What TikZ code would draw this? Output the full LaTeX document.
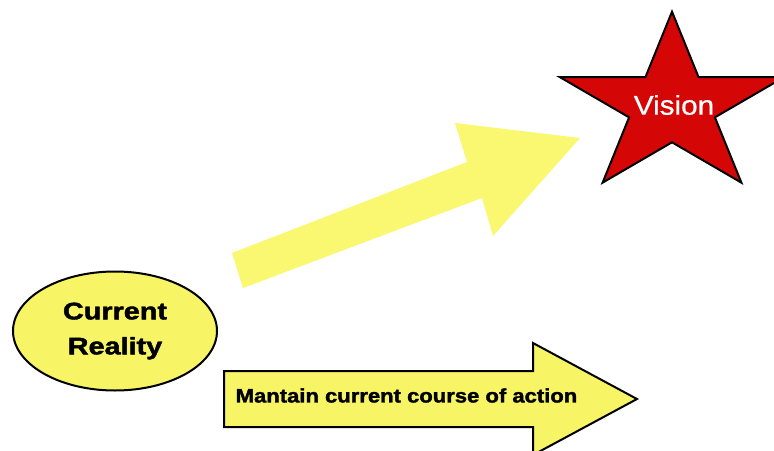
\documentclass[tikz,border=0pt]{standalone}
\usepackage{fontspec}
\setmainfont{Liberation Sans}
\newfontfamily\heavysans[FakeBold=1.6]{Liberation Sans Bold}
\newfontfamily\starsans[FakeBold=0.6]{Liberation Sans}
\usetikzlibrary{shapes.geometric}
\definecolor{pale}{RGB}{247,245,102}
\definecolor{paleflat}{RGB}{249,248,112}
\definecolor{starred}{RGB}{212,6,6}
\begin{document}
\begin{tikzpicture}[x=1pt,y=-1pt,
  outlined/.style={draw=black,line width=2pt,line join=miter},
  boldlabel/.style={font=\heavysans,text=black,inner sep=0pt}]
\useasboundingbox (0,0) rectangle (774,450);
\fill[white] (0,0) rectangle (774,450);
\begin{scope}
\clip (0,0) rectangle (774,450);

% rising arrow towards the star (no outline)
\fill[paleflat] (232,253) -- (467,162) -- (455,123) -- (580,138)
  -- (493,236) -- (482,198) -- (243,288) -- cycle;

% horizontal arrow with its label
\draw[outlined,fill=pale] (224,371) -- (533,371) -- (533,343) -- (637,399)
  -- (533,455) -- (533,427) -- (224,427) -- cycle;
\node[boldlabel] (course) at (406.5,395.5)
  {\scalebox{1.13}[1]{\fontsize{19.5}{22}\selectfont Mantain current course of action}};

% starting point
\node[ellipse,outlined,fill=pale,minimum width=204pt,minimum height=119pt,
      inner sep=0pt,font=\heavysans] (reality) at (115,331)
  {\scalebox{1.2}[1]{\parbox{100pt}{\centering\fontsize{24}{35}\selectfont Current\\Reality}}};

% target star
\draw[outlined,fill=starred] (672,11.7) -- (698.5,77) -- (784.35,77)
  -- (714.9,117.35) -- (741.4,182.65) -- (672,142.3) -- (602.6,182.65)
  -- (629.1,117.35) -- (559.65,77) -- (645.5,77) -- cycle;
\node[text=white,inner sep=0pt,font=\starsans] (vision) at (674,105)
  {\scalebox{1.1}[1]{\fontsize{27}{30}\selectfont Vision}};
\end{scope}
\end{tikzpicture}
\end{document}
